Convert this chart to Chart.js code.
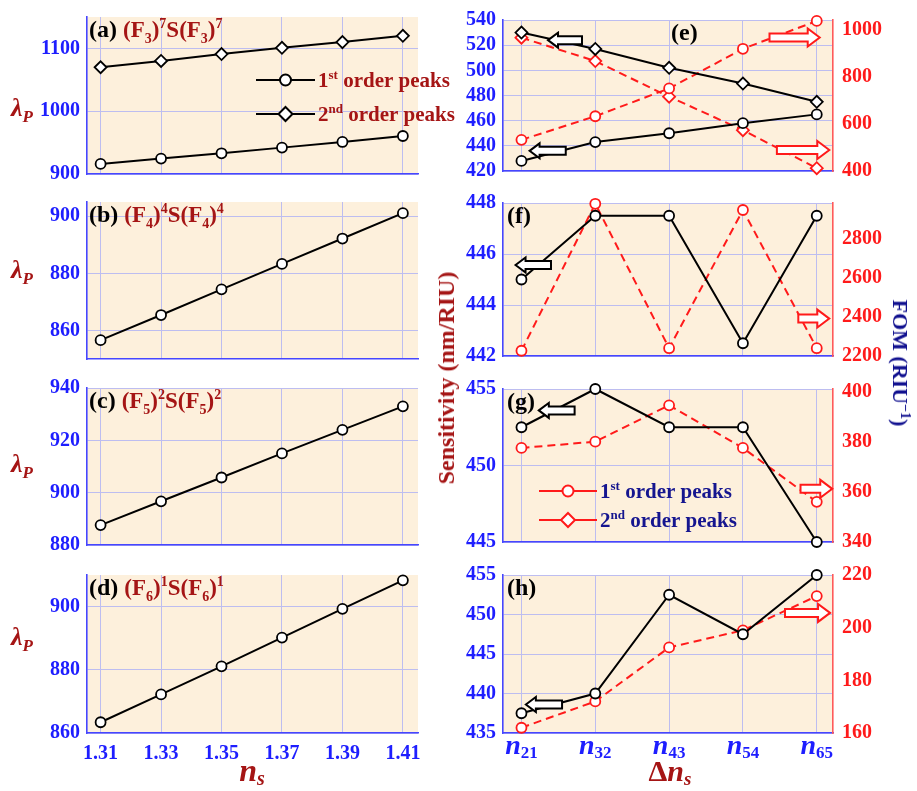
<!DOCTYPE html>
<html>
<head>
<meta charset="utf-8">
<script src="https://cdn.jsdelivr.net/npm/chart.js@4.4.1/dist/chart.umd.min.js"></script>
<style>
  body { margin: 0; background: #fff; width: 917px; height: 791px; overflow: hidden; position: relative;
         font-family: "Liberation Serif", "Times New Roman", serif; }
  canvas { position: absolute; }
  .lab { position: absolute; font-weight: bold; white-space: nowrap; transform: translate(-50%, -50%); line-height: 1; }
  .lab sub, .lab sup { line-height: 0; }
  .lo { position: relative; top: 0.22em; }
</style>
</head>
<body>
<canvas id="pa"></canvas>
<canvas id="pb"></canvas>
<canvas id="pc"></canvas>
<canvas id="pd"></canvas>
<canvas id="pe"></canvas>
<canvas id="pf"></canvas>
<canvas id="pg"></canvas>
<canvas id="ph"></canvas>

<!-- axis titles outside the plots -->
<div class="lab" style="left:22px;top:108px;color:#a51515;font-size:26px;font-style:italic">λ<sub style="font-size:17px">P</sub></div>
<div class="lab" style="left:22px;top:270px;color:#a51515;font-size:26px;font-style:italic">λ<sub style="font-size:17px">P</sub></div>
<div class="lab" style="left:22px;top:464px;color:#a51515;font-size:26px;font-style:italic">λ<sub style="font-size:17px">P</sub></div>
<div class="lab" style="left:22px;top:637px;color:#a51515;font-size:26px;font-style:italic">λ<sub style="font-size:17px">P</sub></div>
<div class="lab" style="left:252px;top:770px;color:#a51515;font-size:32px;font-style:italic">n<span class="lo" style="font-size:20px">s</span></div>
<div class="lab" style="left:670px;top:771px;color:#a51515;font-size:30px">Δ<i>n</i><span class="lo" style="font-size:19px"><i>s</i></span></div>
<div class="lab" style="left:446px;top:378px;color:#a51515;font-size:24px;transform:translate(-50%,-50%) rotate(-90deg)">Sensitivity (nm/RIU)</div>
<div class="lab" style="left:900px;top:363px;color:#10108f;font-size:22px;transform:translate(-50%,-50%) rotate(90deg)">FOM (RIU<sup style="font-size:14px">−1</sup>)</div>

<script>
// ---- data ----
const nsValues = [1.31, 1.33, 1.35, 1.37, 1.39, 1.41];
const aFirst  = [916, 924.5, 933, 942, 951, 960.5];
const aSecond = [1070, 1080, 1091, 1101, 1110, 1120];
const bFirst  = [856.6, 865.4, 874.4, 883.3, 892.2, 901.1];
const cFirst  = [887.6, 896.7, 905.8, 915, 924, 933];
const dFirst  = [863.4, 872.2, 881.1, 890.2, 899.3, 908.3];

const deltaLabels = ['21', '32', '43', '54', '65'];
const deltaIdx = [0, 1, 2, 3, 4];
const eSens1 = [428, 443, 450, 458, 465];
const eSens2 = [530, 517, 502, 489.5, 475];
const eFom1  = [532, 632, 750, 918, 1036];
const eFom2  = [965, 866, 715, 573, 412];
const fSens  = [445, 447.5, 447.5, 442.5, 447.5];
const fFom   = [2227, 2981, 2240, 2949, 2240];
const gSens  = [452.5, 455, 452.5, 452.5, 445];
const gFom   = [377.5, 380, 394.5, 377.5, 356];
const hSens  = [437.5, 440, 452.5, 447.5, 455];
const hFom   = [162, 172, 192.5, 199, 212];

const nsTicks = [1.31, 1.33, 1.35, 1.37, 1.39, 1.41];
const aTicks = [900, 1000, 1100];
const bTicks = [860, 880, 900];
const cTicks = [880, 900, 920, 940];
const dTicks = [860, 880, 900];
const eTicks = [420, 440, 460, 480, 500, 520, 540];
const eTicks2 = [400, 600, 800, 1000];
const fTicks = [442, 444, 446, 448];
const fTicks2 = [2200, 2400, 2600, 2800];
const gTicks = [445, 450, 455];
const gTicks2 = [340, 360, 380, 400];
const hTicks = [435, 440, 445, 450, 455];
const hTicks2 = [160, 180, 200, 220];

// ---- styling ----
const FONT = '"Liberation Serif", "Times New Roman", serif';
const BG = '#fdf0dc';
const GRID = '#bdbdf0';
const AXBLUE = '#4646ff';
const AXRED = '#ff5a5a';
const BLUE = '#1e1eff';
const RED = '#ff1a1a';
const DARKRED = '#a51515';
const NAVY = '#15158f';

function fontOf(kind, size) {
  const small = kind === 'sub' || kind === 'sup';
  const s = small ? Math.round(size * 0.62) : size;
  return (kind === 'i' ? 'italic ' : '') + 'bold ' + s + 'px ' + FONT;
}

// parts: [text, kind, optional shift factor]
function drawRich(ctx, parts, x, y, size, color, align) {
  let w = 0;
  parts.forEach(p => { ctx.font = fontOf(p[1], size); w += ctx.measureText(p[0]).width; });
  let cx = align === 'center' ? x - w / 2 : x;
  ctx.save();
  ctx.fillStyle = color;
  ctx.textAlign = 'left';
  ctx.textBaseline = 'alphabetic';
  parts.forEach(p => {
    ctx.font = fontOf(p[1], size);
    let dy = 0;
    if (p[1] === 'sub') dy = size * (p[2] || 0.28);
    if (p[1] === 'sup') dy = -size * (p[2] || 0.38);
    ctx.fillText(p[0], cx, y + dy);
    cx += ctx.measureText(p[0]).width;
  });
  ctx.restore();
  return w;
}

function drawArrow(ctx, xTip, xTail, y, color, s, h, L) {
  const d = xTip < xTail ? 1 : -1;
  const xb = xTip + d * L;
  ctx.save();
  ctx.beginPath();
  ctx.moveTo(xTip, y);
  ctx.lineTo(xb, y - h);
  ctx.lineTo(xb, y - s);
  ctx.lineTo(xTail, y - s);
  ctx.lineTo(xTail, y + s);
  ctx.lineTo(xb, y + s);
  ctx.lineTo(xb, y + h);
  ctx.closePath();
  ctx.fillStyle = '#fff';
  ctx.fill();
  ctx.strokeStyle = color;
  ctx.lineWidth = 2;
  ctx.stroke();
  ctx.restore();
}

function drawMarker(ctx, style, x, y, r, color) {
  ctx.save();
  ctx.beginPath();
  if (style === 'circle') {
    ctx.arc(x, y, r, 0, Math.PI * 2);
  } else {
    ctx.moveTo(x, y - r); ctx.lineTo(x + r, y); ctx.lineTo(x, y + r); ctx.lineTo(x - r, y); ctx.closePath();
  }
  ctx.fillStyle = '#fff';
  ctx.fill();
  ctx.strokeStyle = color;
  ctx.lineWidth = 2;
  ctx.stroke();
  ctx.restore();
}

function titleParts(n, p) {
  return [['(F', ''], [n, 'sub'], [')', ''], [p, 'sup'], ['S(F', ''], [n, 'sub'], [')', ''], [p, 'sup']];
}

// plugin: panel background, labels, arrows, legends
function decor(d) {
  return {
    id: 'decor',
    beforeDraw(chart) {
      const a = chart.chartArea, ctx = chart.ctx;
      ctx.save();
      ctx.fillStyle = BG;
      ctx.fillRect(a.left, a.top, a.right - a.left, a.bottom - a.top);
      ctx.restore();
    },
    afterDatasetsDraw(chart) {
      const a = chart.chartArea, ctx = chart.ctx;
      if (d.tag) {
        const w = drawRich(ctx, [[d.tag, '']], a.left + d.tagX, a.top + 20, 24, '#000', 'left');
        if (d.title) drawRich(ctx, d.title, a.left + d.tagX + w + 6, a.top + 20, 23, DARKRED, 'left');
      }
      (d.arrows || []).forEach(ar => {
        const xs = chart.scales.x, ys = chart.scales[ar.axis];
        const red = ar.axis === 'y2';
        drawArrow(ctx, xs.getPixelForValue(ar.tip), xs.getPixelForValue(ar.tail), ys.getPixelForValue(ar.y),
          red ? RED : '#000', 4, red ? 9 : 7.5, red ? 12 : 10);
      });
      if (d.legend) {
        const L = d.legend;
        L.rows.forEach((row, i) => {
          const y = a.top + L.y0 + i * L.dy;
          ctx.save();
          ctx.strokeStyle = L.lineColor;
          ctx.lineWidth = 2.2;
          ctx.beginPath();
          ctx.moveTo(a.left + L.x0, y);
          ctx.lineTo(a.left + L.x1, y);
          ctx.stroke();
          ctx.restore();
          drawMarker(ctx, row.style, a.left + (L.x0 + L.x1) / 2, y, row.style === 'circle' ? 5.5 : 7, L.lineColor);
          drawRich(ctx, row.text, a.left + L.x1 + 3, y + 7, 21, L.textColor, 'left');
        });
      }
      if (d.deltaTicks) {
        const xs = chart.scales.x;
        deltaIdx.forEach((v, i) => {
          drawRich(ctx, [['n', 'i'], [deltaLabels[i], 'sub', 0.16]], xs.getPixelForValue(v), a.bottom + 21, 28, BLUE, 'center');
        });
      }
    }
  };
}

const tickFont = { family: FONT, size: 20, weight: 'bold' };

function xScale(min, max, ticks, show, hb) {
  return {
    type: 'linear', min, max,
    afterBuildTicks: s => { s.ticks = ticks.map(v => ({ value: v })); },
    afterFit: s => { s.height = hb; },
    grid: { color: GRID, lineWidth: 1, drawTicks: false },
    border: { color: AXBLUE, width: 1.6 },
    ticks: { display: show, autoSkip: false, padding: 9, color: BLUE, font: tickFont, maxRotation: 0,
             callback: v => v.toFixed(2) }
  };
}

function yScale(min, max, ticks, width, right) {
  return {
    type: 'linear', min, max,
    position: right ? 'right' : 'left',
    afterBuildTicks: s => { s.ticks = ticks.map(v => ({ value: v })); },
    afterFit: s => { s.width = width; },
    grid: right ? { display: false, drawTicks: false } : { color: GRID, lineWidth: 1, drawTicks: false },
    border: { color: right ? AXRED : AXBLUE, width: 1.6 },
    ticks: { autoSkip: false, padding: right ? 9 : 7, color: right ? RED : BLUE,
             font: { family: FONT, size: 20, weight: 'bold' }, callback: v => String(v) }
  };
}

function series(xs, ys, style, red, axis) {
  return {
    data: xs.map((x, i) => ({ x, y: ys[i] })),
    yAxisID: axis || 'y',
    borderColor: red ? RED : '#000',
    borderWidth: 2,
    borderDash: red ? [8, 5] : [],
    pointStyle: style,
    pointRadius: style === 'circle' ? 5 : 6,
    pointBorderWidth: 1.8,
    pointBackgroundColor: '#fff',
    pointBorderColor: red ? RED : '#000',
    tension: 0,
    clip: false
  };
}

function panel(id, geo, scales, datasets, d) {
  const c = document.getElementById(id);
  c.width = geo.r - geo.l + geo.wl + geo.wr;
  c.height = geo.b - geo.t + geo.pt + geo.hb;
  c.style.left = (geo.l - geo.wl) + 'px';
  c.style.top = (geo.t - geo.pt) + 'px';
  return new Chart(c, {
    type: 'line',
    data: { datasets },
    options: {
      responsive: false, animation: false, devicePixelRatio: 1,
      layout: { padding: { top: geo.pt, left: 0, bottom: 0, right: scales.y2 ? 0 : geo.wr } },
      plugins: { legend: { display: false }, tooltip: { enabled: false } },
      scales
    },
    plugins: [decor(d)]
  });
}

// ---- left column: resonance wavelength vs n_s ----
const LX = { l: 87, r: 418, wl: 87, wr: 50, pt: 14 };
const geoA = Object.assign({ t: 12, b: 177, hb: 16 }, LX);
const geoB = Object.assign({ t: 197, b: 362, hb: 16 }, LX);
const geoC = Object.assign({ t: 383, b: 548, hb: 16 }, LX);
const geoD = Object.assign({ t: 570, b: 733, hb: 58 }, LX);

panel('pa', geoA,
  { x: xScale(1.3055, 1.415, nsTicks, false, 16), y: yScale(900, 1150, aTicks, 87, false) },
  [series(nsValues, aFirst, 'circle', false), series(nsValues, aSecond, 'rectRot', false)],
  { tag: '(a)', tagX: 2, title: titleParts('3', '7'),
    legend: { x0: 169, x1: 228, y0: 63, dy: 34, lineColor: '#000', textColor: DARKRED,
              rows: [{ style: 'circle', text: [['1', ''], ['st', 'sup'], [' order peaks', '']] },
                     { style: 'rectRot', text: [['2', ''], ['nd', 'sup'], [' order peaks', '']] }] } });

panel('pb', geoB,
  { x: xScale(1.3055, 1.415, nsTicks, false, 16), y: yScale(850, 905, bTicks, 87, false) },
  [series(nsValues, bFirst, 'circle', false)],
  { tag: '(b)', tagX: 2, title: titleParts('4', '4') });

panel('pc', geoC,
  { x: xScale(1.3055, 1.415, nsTicks, false, 16), y: yScale(880, 940, cTicks, 87, false) },
  [series(nsValues, cFirst, 'circle', false)],
  { tag: '(c)', tagX: 2, title: titleParts('5', '2') });

panel('pd', geoD,
  { x: xScale(1.3055, 1.415, nsTicks, true, 58), y: yScale(860, 910, dTicks, 87, false) },
  [series(nsValues, dFirst, 'circle', false)],
  { tag: '(d)', tagX: 2, title: titleParts('6', '1') });

// ---- right column: sensitivity (left axis) and FOM (right axis) vs Δn_s ----
const RX = { l: 503, r: 833, wl: 73, wr: 84, pt: 14 };
const geoE = Object.assign({ t: 13, b: 176, hb: 16 }, RX);
const geoF = Object.assign({ t: 196, b: 361, hb: 16 }, RX);
const geoG = Object.assign({ t: 382, b: 547, hb: 16 }, RX);
const geoH = Object.assign({ t: 568, b: 733, hb: 58 }, RX);

function rightScales(y, y2, hb) {
  return { x: xScale(-0.25, 4.22, deltaIdx, false, hb), y, y2 };
}

panel('pe', geoE,
  rightScales(yScale(420, 540, eTicks, 73, false), yScale(400, 1040, eTicks2, 84, true), 16),
  [series(deltaIdx, eSens1, 'circle', false), series(deltaIdx, eSens2, 'rectRot', false),
   series(deltaIdx, eFom1, 'circle', true, 'y2'), series(deltaIdx, eFom2, 'rectRot', true, 'y2')],
  { tag: '(e)', tagX: 168,
    arrows: [{ axis: 'y', tip: 0.36, tail: 0.82, y: 524 }, { axis: 'y', tip: 0.11, tail: 0.6, y: 436 },
             { axis: 'y2', tip: 4.04, tail: 3.36, y: 966 }, { axis: 'y2', tip: 4.17, tail: 3.46, y: 489 }] });

panel('pf', geoF,
  rightScales(yScale(442, 448, fTicks, 73, false), yScale(2200, 2985, fTicks2, 84, true), 16),
  [series(deltaIdx, fSens, 'circle', false), series(deltaIdx, fFom, 'circle', true, 'y2')],
  { tag: '(f)', tagX: 4,
    arrows: [{ axis: 'y', tip: -0.08, tail: 0.4, y: 445.57 }, { axis: 'y2', tip: 4.17, tail: 3.75, y: 2392 }] });

panel('pg', geoG,
  rightScales(yScale(445, 455, gTicks, 73, false), yScale(340, 401, gTicks2, 84, true), 16),
  [series(deltaIdx, gSens, 'circle', false), series(deltaIdx, gFom, 'circle', true, 'y2')],
  { tag: '(g)', tagX: 4,
    arrows: [{ axis: 'y', tip: 0.235, tail: 0.72, y: 453.6 }, { axis: 'y2', tip: 4.21, tail: 3.78, y: 361.2 }],
    legend: { x0: 36, x1: 94, y0: 102, dy: 29, lineColor: RED, textColor: NAVY,
              rows: [{ style: 'circle', text: [['1', ''], ['st', 'sup'], [' order peaks', '']] },
                     { style: 'rectRot', text: [['2', ''], ['nd', 'sup'], [' order peaks', '']] }] } });

panel('ph', geoH,
  rightScales(yScale(435, 455, hTicks, 73, false), yScale(160, 220, hTicks2, 84, true), 58),
  [series(deltaIdx, hSens, 'circle', false), series(deltaIdx, hFom, 'circle', true, 'y2')],
  { tag: '(h)', tagX: 4, deltaTicks: true,
    arrows: [{ axis: 'y', tip: 0.06, tail: 0.55, y: 438.6 }, { axis: 'y2', tip: 4.18, tail: 3.57, y: 205.6 }] });
</script>
</body>
</html>
